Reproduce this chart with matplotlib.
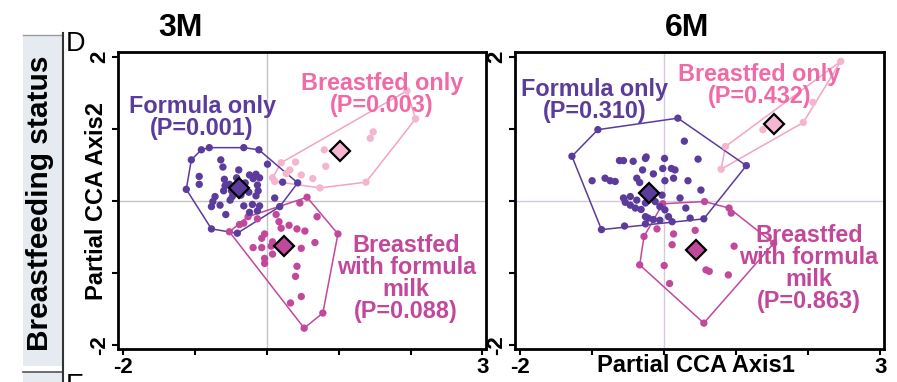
import matplotlib
matplotlib.use("Agg")
import matplotlib.pyplot as plt
import numpy as np
from matplotlib.patches import Rectangle
from matplotlib.lines import Line2D

plt.rcParams['font.family'] = ['Liberation Sans', 'DejaVu Sans']

# ---------------- data: partial CCA site scores ----------------
# 3 months
formula_3m_x = [-1.05, -0.91, -0.80, -0.32, -0.11, 0.01, 0.43, 0.18, -0.41, -0.77, -1.12,
                -0.64, -0.61, -0.94, -0.94, -0.39, -0.24, -0.15, -0.19, -0.10, -0.59, -0.58,
                -0.52, -0.60, -0.49, -0.13, -0.12, -0.15, -0.25, -0.72, -0.75, -0.77, -0.65,
                -0.57, -0.48, -0.32, -0.20, -0.10, -0.13, -0.24, 0.11, 0.22, -0.42, -0.51,
                -0.30, -0.36]
formula_3m_y = [0.57, 0.71, 0.74, 0.74, 0.71, 0.51, 0.25, -0.08, -0.45, -0.39, 0.16,
                0.57, 0.47, 0.34, 0.23, 0.43, 0.36, 0.37, 0.31, 0.32, 0.30, 0.21,
                0.23, 0.14, 0.14, 0.22, 0.14, 0.07, 0.12, 0.06, -0.01, -0.08, -0.06,
                -0.19, 0.06, -0.07, -0.05, -0.07, -0.14, -0.16, 0.04, 0.26, 0.32, 0.01,
                0.25, 0.08]
breast_3m_x = [0.08, 0.11, 0.20, 0.32, 0.40, 0.27, 0.48, 0.64, 0.74, 0.80, 0.82, 1.44,
               1.48, 1.38, 2.07, 1.95]
breast_3m_y = [0.32, 0.27, 0.53, 0.43, 0.54, 0.38, 0.36, 0.31, 0.18, 0.71, 0.48, 0.87,
               0.96, 0.26, 1.14, 1.53]
mixed_3m_x = [0.56, 0.99, 0.78, 0.52, -0.52, 0.46, 0.70, 0.13, 0.17, -0.26, -0.13, -0.38,
              0.31, 0.42, 0.53, 0.20, 0.67, -0.07, -0.03, 0.08, -0.19, -0.07, 0.06, 0.08,
              -0.03, -0.03, 0.48, 0.42, 0.40, 0.48, 0.33, -0.32]
mixed_3m_y = [0.05, -0.46, -1.56, -1.77, -0.43, -0.03, -0.22, -0.19, -0.29, -0.22, -0.25,
              -0.33, -0.34, -0.39, -0.42, -0.38, -0.58, -0.52, -0.46, -0.57, -0.65, -0.65,
              -0.63, -0.74, -0.80, -0.87, -0.66, -0.91, -1.05, -1.33, -1.42, -0.31]

# 6 months
formula_6m_x = [-1.28, -0.92, 0.19, 1.14, 0.55, -0.87, 0.28, -0.62, -0.565, -0.43, -0.26,
                0.005, 0.47, -0.30, -0.15, -0.02, 0.10, 0.13, 0.01, 0.33, -1.00, -0.82,
                -0.75, -0.68, -0.38, -0.34, 0.51, 0.22, -0.565, -0.47, -0.38, -0.47, -0.40,
                -0.26, -0.125, -0.06, 0.01, 0.06, 0.11, -0.22, -0.15, -0.06, -0.26, -0.54,
                -0.32, -0.03, -0.55, -0.26, 0.36, 0.30, 0.15, -0.25]
formula_6m_y = [0.62, 0.99, 1.15, 0.49, -0.25, -0.40, 0.83, 0.56, 0.56, 0.55, 0.59,
                0.59, 0.58, 0.43, 0.375, 0.45, 0.45, 0.315, 0.28, 0.28, 0.28, 0.315,
                0.28, 0.27, 0.315, 0.255, 0.15, 0.04, 0.04, 0.06, 0.01, -0.06, -0.10,
                -0.03, -0.01, -0.08, -0.125, -0.22, -0.29, -0.24, -0.26, -0.27, -0.22, -0.02,
                -0.12, 0.08, -0.35, -0.32, -0.24, -0.10, 0.43, 0.61]
breast_6m_x = [0.79, 0.85, 1.37, 1.93, 2.45, 2.065]
breast_6m_y = [0.44, 0.755, 0.99, 1.09, 1.94, 1.37]
mixed_6m_x = [-0.02, 0.56, 0.90, 0.93, 1.52, 0.55, -0.34, -0.28, 0.13, 0.43, 0.11, 0.00,
              0.075, 0.58, 0.625, 0.89, 0.97, -0.10]
mixed_6m_y = [-0.04, -0.01, -0.10, -0.17, -0.59, -1.70, -0.89, -0.495, -0.46, -0.41, -0.61,
              -0.90, -1.15, -0.96, -0.98, -1.03, -0.63, -0.39]

# group centroids (x, y)
centroid_3m = {'formula': (-0.385, 0.176), 'breast': (1.014, 0.699), 'mixed': (0.236, -0.625)}
centroid_6m = {'formula': (-0.215, 0.106), 'breast': (1.528, 1.065), 'mixed': (0.435, -0.690)}

# group labels with permutation P values
label_3m = {'formula': 'Formula only\n(P=0.001)',
            'breast': 'Breastfed only\n(P=0.003)',
            'mixed': 'Breastfed\nwith formula\nmilk\n(P=0.088)'}
label_6m = {'formula': 'Formula only\n(P=0.310)',
            'breast': 'Breastfed only\n(P=0.432)',
            'mixed': 'Breastfed\nwith formula\nmilk\n(P=0.863)'}
label_pos_3m = {'formula': (-0.90, 1.16), 'breast': (1.60, 1.48), 'mixed': (1.94, -1.08)}
label_pos_6m = {'formula': (-0.96, 1.39), 'breast': (1.32, 1.61), 'mixed': (2.01, -0.94)}

# ---------------- styling ----------------
PURPLE = '#5b3b9c'
PINK_TXT = '#ef6aa6'
PINK_PT = '#f5b5cf'
PINK_LINE = '#f3a3c4'
MAGENTA = '#c2489c'

styles = {
    'formula': dict(pt=PURPLE, line=PURPLE, txt=PURPLE, dia=PURPLE),
    'breast': dict(pt=PINK_PT, line=PINK_LINE, txt=PINK_TXT, dia='#f4b6d0'),
    'mixed': dict(pt=MAGENTA, line=MAGENTA, txt=MAGENTA, dia=MAGENTA),
}


def convex_hull(xs, ys):
    pts = sorted(set(zip(xs, ys)))

    def cross(o, a, b):
        return (a[0] - o[0]) * (b[1] - o[1]) - (a[1] - o[1]) * (b[0] - o[0])

    lower, upper = [], []
    for p in pts:
        while len(lower) >= 2 and cross(lower[-2], lower[-1], p) <= 0:
            lower.pop()
        lower.append(p)
    for p in reversed(pts):
        while len(upper) >= 2 and cross(upper[-2], upper[-1], p) <= 0:
            upper.pop()
        upper.append(p)
    hull = lower[:-1] + upper[:-1]
    hull.append(hull[0])
    hx, hy = zip(*hull)
    return np.array(hx), np.array(hy)


W, H = 897, 382


def frect(l, t, r, b):
    return [l / W, 1 - b / H, (r - l) / W, (b - t) / H]


fig = plt.figure(figsize=(W / 100, H / 100), dpi=100)
ax1 = fig.add_axes(frect(118, 52, 486, 349))
ax2 = fig.add_axes(frect(515, 52, 884, 349))


def draw_panel(ax, groups, centroids, labels, label_pos, refcolor):
    ax.set_xlim(-2.07, 3.05)
    ax.set_ylim(-2.06, 2.07)
    ax.axhline(0, color=refcolor, lw=1.0, zorder=0)
    ax.axvline(0, color=refcolor, lw=1.0, zorder=0)
    order = ['breast', 'mixed', 'formula']
    for key in order:
        xs, ys = groups[key]
        st = styles[key]
        hx, hy = convex_hull(xs, ys)
        ax.plot(hx, hy, color=st['line'], lw=1.1, zorder=2)
    for key in order:
        xs, ys = groups[key]
        st = styles[key]
        ax.scatter(xs, ys, s=28, color=st['pt'], edgecolors='none', zorder=3)
    for key in order:
        cx, cy = centroids[key]
        st = styles[key]
        ax.plot([cx], [cy], marker='D', ms=10.5, mfc=st['dia'], mec='black', mew=1.6,
                zorder=5, linestyle='none')
    for key in order:
        tx, ty = label_pos[key]
        ax.text(tx, ty, labels[key], color=styles[key]['txt'], ha='center', va='center',
                fontsize=16.8, fontweight='bold', linespacing=0.95, zorder=6)

    ax.set_xticks([-2, -1, 0, 1, 2, 3])
    ax.set_xticklabels(['-2', '', '', '', '', '3'])
    ax.set_yticks([-2, -1, 0, 1, 2])
    ax.set_yticklabels(['-2', '', '', '', '2'])
    ax.tick_params(direction='out', length=4, width=1.5, labelsize=16, pad=1.5)
    ax.tick_params(axis='y', labelrotation=90)
    for lab in ax.get_xticklabels() + ax.get_yticklabels():
        lab.set_fontweight('bold')
    for lab in ax.get_yticklabels():
        lab.set_va('center')
    for sp in ax.spines.values():
        sp.set_linewidth(2.0)
        sp.set_color('black')


draw_panel(ax1,
           {'formula': (formula_3m_x, formula_3m_y), 'breast': (breast_3m_x, breast_3m_y),
            'mixed': (mixed_3m_x, mixed_3m_y)},
           centroid_3m, label_3m, label_pos_3m, '#c4c4c4')
draw_panel(ax2,
           {'formula': (formula_6m_x, formula_6m_y), 'breast': (breast_6m_x, breast_6m_y),
            'mixed': (mixed_6m_x, mixed_6m_y)},
           centroid_6m, label_6m, label_pos_6m, '#d6c8de')

ax1.set_ylabel('Partial CCA Axis2', fontsize=17, fontweight='bold')
ax1.yaxis.set_label_coords(-0.058, 0.5)
ax1.yaxis.label.set_va('center')
ax2.set_xlabel('Partial CCA Axis1', fontsize=17, fontweight='bold')
ax2.xaxis.set_label_coords(0.49, -0.054)
ax2.xaxis.label.set_va('center')

# panel titles
fig.text(180 / W, 1 - 27.5 / H, '3M', fontsize=23, fontweight='bold', ha='center', va='center')
fig.text(687 / W, 1 - 27.5 / H, '6M', fontsize=23, fontweight='bold', ha='center', va='center')

# row header on the left
fig.add_artist(Rectangle((23 / W, 1 - 366 / H), 39 / W, 331 / H, transform=fig.transFigure,
                         facecolor='#e6ebf2', edgecolor='none', zorder=0))
fig.add_artist(Rectangle((23 / W, 0), 39 / W, (H - 372) / H, transform=fig.transFigure,
                         facecolor='#e6ebf2', edgecolor='none', zorder=0))
fig.add_artist(Line2D([23 / W, 62 / W], [1 - 35 / H, 1 - 35 / H], transform=fig.transFigure,
                      color='#9a9a9a', lw=1.0))
fig.add_artist(Line2D([23 / W, 62 / W], [1 - 372 / H, 1 - 372 / H], transform=fig.transFigure,
                      color='#555555', lw=1.2))
fig.add_artist(Line2D([62.5 / W, 62.5 / W], [1 - 33 / H, 0], transform=fig.transFigure,
                      color='#333333', lw=1.5))
fig.text(40 / W, 1 - 203 / H, 'Breastfeeding status', rotation=90, fontsize=21.5,
         fontweight='bold', ha='center', va='center')
fig.text(66 / W, 1 - 44 / H, 'D', fontsize=19.5, ha='left', va='center')
fig.text(66 / W, 1 - 373 / H, 'E', fontsize=19.5, ha='left', va='top')

fig.savefig('out.png', dpi=100)
